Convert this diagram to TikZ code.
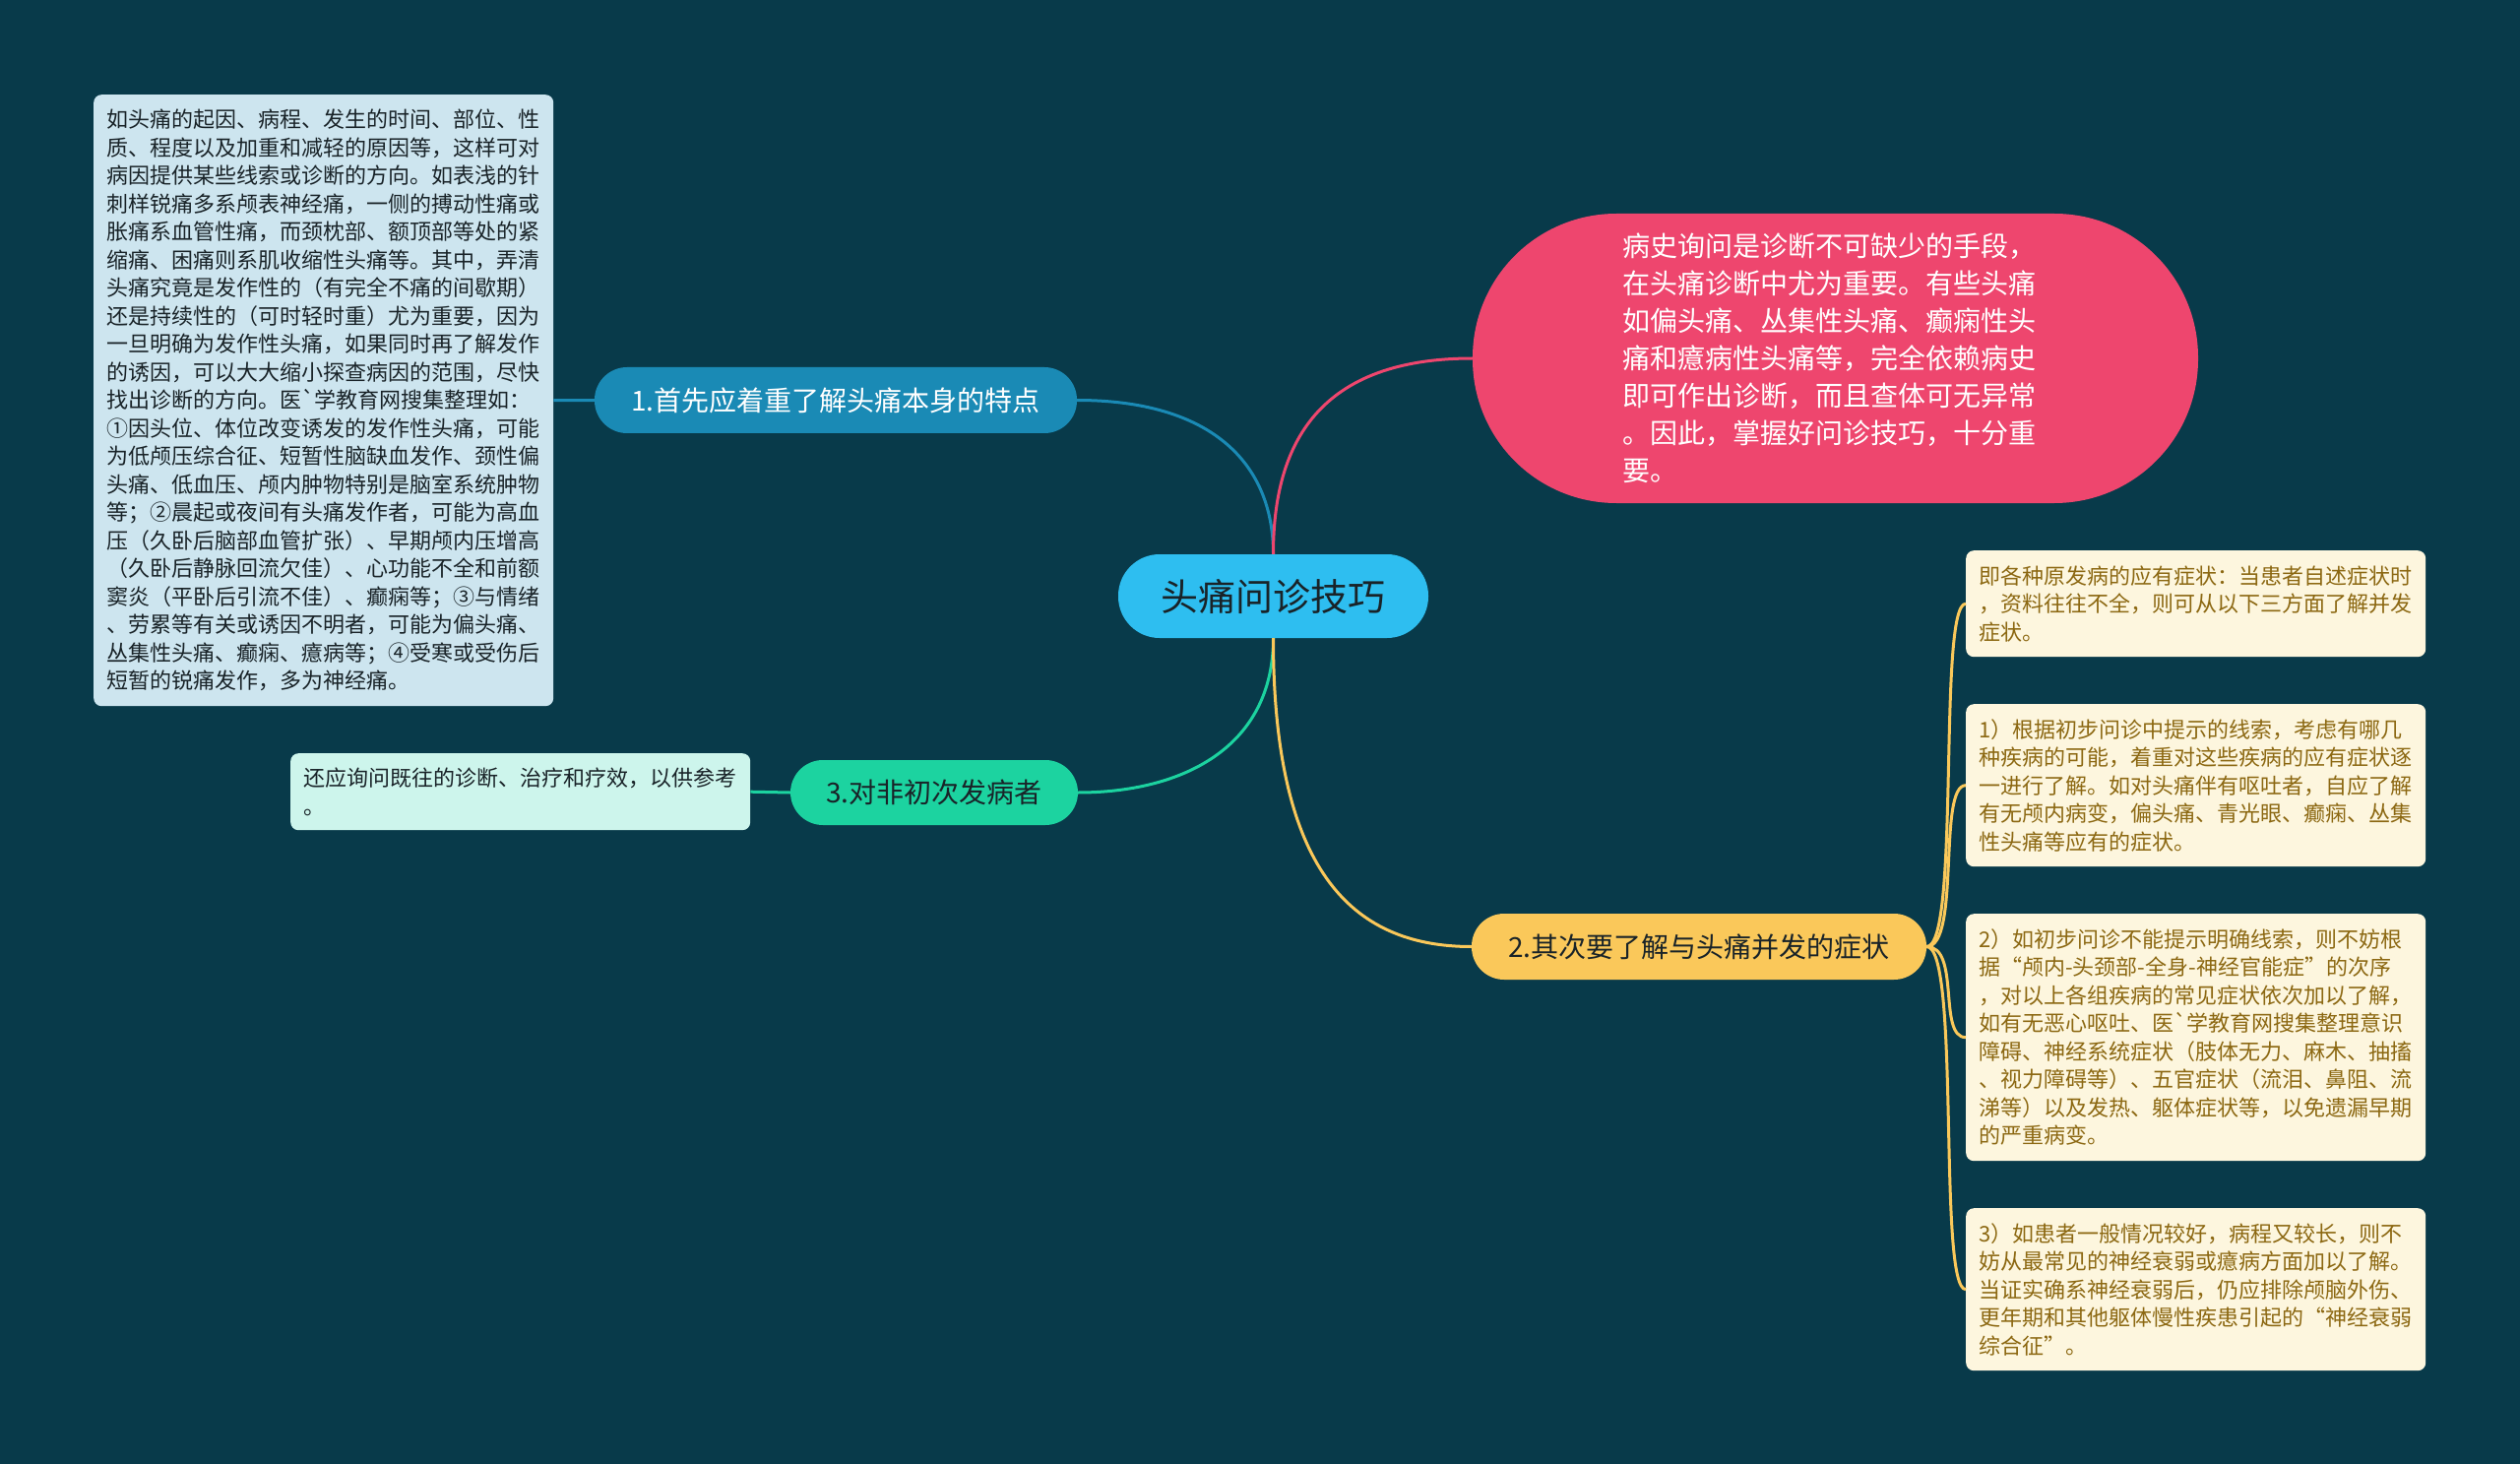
\documentclass[tikz,border=0pt]{standalone}
\usepackage{fontspec}
\setmainfont{Noto Sans CJK SC}
\newfontfamily\cjk{Noto Sans CJK SC}
\definecolor{bgc}{RGB}{8,58,74}
\definecolor{ccen}{RGB}{46,190,240}
\definecolor{cone}{RGB}{26,138,181}
\definecolor{cpink}{RGB}{238,70,110}
\definecolor{cgreen}{RGB}{28,211,160}
\definecolor{cyel}{RGB}{250,200,90}
\definecolor{cltbox}{RGB}{205,229,239}
\definecolor{clbbox}{RGB}{205,245,236}
\definecolor{crbox}{RGB}{253,246,222}
\definecolor{crtext}{RGB}{140,104,18}
\definecolor{cdark}{RGB}{25,35,40}
\begin{document}
\begin{tikzpicture}[x=1pt,y=1pt,
  pill/.style={inner sep=0pt, align=center},
  note/.style={anchor=north west, rounded corners=8pt, inner xsep=13pt, inner ysep=0pt,
    text width=441pt, align=left, font=\cjk\fontsize{22}{28.5}\selectfont},
  conn/.style={line width=3pt}
]
\useasboundingbox[fill=bgc] (0,0) rectangle (2560,-1487);

% center
\node[pill, fill=ccen, rounded corners=42pt, minimum width=315pt, minimum height=85pt,
  text=cdark, font=\cjk\fontsize{38}{40}\selectfont] (c) at (1293.5,-605.5) {头痛问诊技巧};

% pink
\node[pill, fill=cpink, rounded corners=146pt, minimum width=737pt, minimum height=294pt,
  text=white, text width=432pt, align=left, font=\cjk\fontsize{28}{38}\selectfont] (pk) at (1864.5,-364) {%
病史询问是诊断不可缺少的手段，\\
在头痛诊断中尤为重要。有些头痛\\
如偏头痛、丛集性头痛、癫痫性头\\
痛和癔病性头痛等，完全依赖病史\\
即可作出诊断，而且查体可无异常\\
。因此，掌握好问诊技巧，十分重\\
要。};

% branches
\node[pill, fill=cone, rounded corners=33pt, minimum width=490pt, minimum height=67pt,
  text=white, font=\cjk\fontsize{28}{30}\selectfont] (n1) at (849,-406.5) {1.首先应着重了解头痛本身的特点};
\node[pill, fill=cgreen, rounded corners=33pt, minimum width=292pt, minimum height=66pt,
  text=cdark, font=\cjk\fontsize{28}{30}\selectfont] (n3) at (949,-805) {3.对非初次发病者};
\node[pill, fill=cyel, rounded corners=33pt, minimum width=462pt, minimum height=67pt,
  text=cdark, font=\cjk\fontsize{28}{30}\selectfont] (n2) at (1726,-961.5) {2.其次要了解与头痛并发的症状};

% notes
\node[note, fill=cltbox, text=cdark, minimum height=621pt] (lt) at (95,-96) {%
如头痛的起因、病程、发生的时间、部位、性\\
质、程度以及加重和减轻的原因等，这样可对\\
病因提供某些线索或诊断的方向。如表浅的针\\
刺样锐痛多系颅表神经痛，一侧的搏动性痛或\\
胀痛系血管性痛，而颈枕部、额顶部等处的紧\\
缩痛、困痛则系肌收缩性头痛等。其中，弄清\\
头痛究竟是发作性的（有完全不痛的间歇期）\\
还是持续性的（可时轻时重）尤为重要，因为\\
一旦明确为发作性头痛，如果同时再了解发作\\
的诱因，可以大大缩小探查病因的范围，尽快\\
找出诊断的方向。医\textasciigrave 学教育网搜集整理如：\\
①因头位、体位改变诱发的发作性头痛，可能\\
为低颅压综合征、短暂性脑缺血发作、颈性偏\\
头痛、低血压、颅内肿物特别是脑室系统肿物\\
等；②晨起或夜间有头痛发作者，可能为高血\\
压（久卧后脑部血管扩张）、早期颅内压增高\\
（久卧后静脉回流欠佳）、心功能不全和前额\\
窦炎（平卧后引流不佳）、癫痫等；③与情绪\\
、劳累等有关或诱因不明者，可能为偏头痛、\\
丛集性头痛、癫痫、癔病等；④受寒或受伤后\\
短暂的锐痛发作，多为神经痛。};

\node[note, fill=clbbox, text=cdark, minimum height=78pt] (lb) at (295,-765) {%
还应询问既往的诊断、治疗和疗效，以供参考\\
。};

\node[note, fill=crbox, text=crtext, minimum height=108pt] (ra) at (1997,-559) {%
即各种原发病的应有症状：当患者自述症状时\\
，资料往往不全，则可从以下三方面了解并发\\
症状。};
\node[note, fill=crbox, text=crtext, minimum height=165pt] (rb) at (1997,-715) {%
1）根据初步问诊中提示的线索，考虑有哪几\\
种疾病的可能，着重对这些疾病的应有症状逐\\
一进行了解。如对头痛伴有呕吐者，自应了解\\
有无颅内病变，偏头痛、青光眼、癫痫、丛集\\
性头痛等应有的症状。};
\node[note, fill=crbox, text=crtext, minimum height=251pt] (rc) at (1997,-928) {%
2）如初步问诊不能提示明确线索，则不妨根\\
据“颅内-头颈部-全身-神经官能症”的次序\\
，对以上各组疾病的常见症状依次加以了解，\\
如有无恶心呕吐、医\textasciigrave 学教育网搜集整理意识\\
障碍、神经系统症状（肢体无力、麻木、抽搐\\
、视力障碍等）、五官症状（流泪、鼻阻、流\\
涕等）以及发热、躯体症状等，以免遗漏早期\\
的严重病变。};
\node[note, fill=crbox, text=crtext, minimum height=165pt] (rd) at (1997,-1227) {%
3）如患者一般情况较好，病程又较长，则不\\
妨从最常见的神经衰弱或癔病方面加以了解。\\
当证实确系神经衰弱后，仍应排除颅脑外伤、\\
更年期和其他躯体慢性疾患引起的“神经衰弱\\
综合征”。};

% connectors
\begin{scope}[on background layer/.style={}]
\draw[conn, cone] (c.north) .. controls (1293.5,-470) and (1230,-406.5) .. (n1.east);
\draw[conn, cpink] (c.north) .. controls (1293.5,-450) and (1340,-364) .. (pk.west);
\draw[conn, cgreen] (c.south) .. controls (1293.5,-760) and (1200,-805) .. (n3.east);
\draw[conn, cyel] (c.south) .. controls (1293.5,-880) and (1370,-961.5) .. (n2.west);
\draw[conn, cone] (n1.west) -- (lt.east);
\draw[conn, cgreen] (n3.west) -- (lb.east);
\draw[conn, cyel] (n2.east) .. controls (1992,-961.5) and (1968,-613) .. (ra.west);
\draw[conn, cyel] (n2.east) .. controls (1992,-961.5) and (1968,-797.5) .. (rb.west);
\draw[conn, cyel] (n2.east) .. controls (1992,-961.5) and (1968,-1053.5) .. (rc.west);
\draw[conn, cyel] (n2.east) .. controls (1992,-961.5) and (1968,-1309.5) .. (rd.west);
\end{scope}
\end{tikzpicture}
\end{document}
